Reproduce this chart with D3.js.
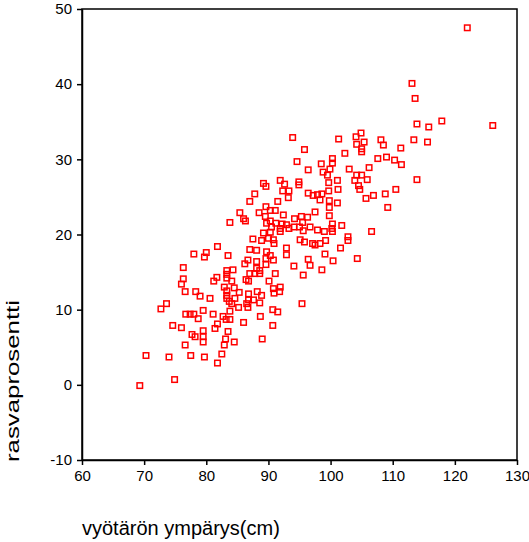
<!DOCTYPE html>
<html>
<head>
<meta charset="utf-8">
<script src="https://cdn.jsdelivr.net/npm/d3@7"></script>
<style>
  body { margin: 0; background: #fff; }
  svg { display: block; }
</style>
</head>
<body>
<svg id="chart" width="529" height="542"></svg>
<script>
// vyötärön ympärys (cm)
const waist = [
  69.3, 70.3, 72.7, 73.6, 74.0, 74.6, 74.9, 76.0, 76.3, 76.3, 76.0, 76.6, 76.6, 76.7, 77.4, 78.0,
  77.5, 77.7, 78.2, 78.0, 78.3, 78.7, 79.0, 79.5, 79.5, 79.5, 79.5, 79.7, 80.0, 79.7, 80.6, 81.1,
  81.8, 81.8, 81.4, 81.8, 82.5, 82.7, 83.2, 83.3, 83.3, 82.9, 83.1, 83.5, 83.5, 84.5, 81.7, 81.2,
  83.3, 83.3, 83.3, 84.3, 84.1, 83.8, 82.9, 83.3, 83.7, 83.8, 83.8, 84.1, 84.6, 84.5, 85.3, 85.2,
  86.0, 86.5, 86.7, 87.6, 86.8, 86.8, 88.2, 88.9, 88.6, 88.7, 89.0, 90.7, 91.5, 90.7, 90.8, 90.9,
  91.9, 91.8, 95.4, 86.2, 86.7, 87.0, 87.5, 88.1, 88.1, 88.1, 88.6, 88.6, 87.8, 87.0, 86.4, 86.8,
  89.7, 90.3, 89.6, 90.8, 89.6, 91.1, 90.1, 92.9, 92.9, 91.9, 89.2, 90.3, 90.0, 90.8, 90.9, 89.7,
  90.5, 86.0, 86.3, 85.4, 88.5, 89.6, 90.3, 91.1, 90.3, 89.5, 91.2, 92.4, 93.3, 92.2, 92.9, 91.9,
  94.1, 94.2, 95.3, 95.5, 96.3, 95.0, 95.6, 96.7, 97.5, 97.9, 99.0, 100.3, 101.8, 99.8, 100.3, 100.2,
  95.1, 95.8, 97.1, 97.5, 98.3, 99.2, 101.6, 102.8, 102.8, 99.1, 100.4, 96.4, 96.7, 94.1, 98.6, 95.6,
  104.3, 88.9, 89.2, 89.6, 91.9, 92.6, 92.3, 93.3, 93.2, 94.9, 94.9, 87.8, 87.0, 91.5, 96.4, 97.2,
  97.9, 98.6, 98.3, 99.7, 99.7, 101.1, 101.2, 99.8, 101.1, 99.8, 103.9, 104.5, 104.7, 96.4, 98.8, 99.5,
  94.6, 98.5, 99.9, 100.3, 100.3, 103.0, 95.8, 93.9, 101.3, 102.3, 104.1, 104.9, 104.2, 105.4, 105.0, 105.0,
  108.1, 108.5, 111.3, 107.6, 109.0, 110.3, 111.4, 106.2, 104.2, 105.0, 105.9, 110.5, 108.8, 106.9, 105.7, 109.2,
  106.6, 113.9, 113.1, 113.6, 113.9, 115.8, 117.9, 126.1, 122.0, 113.4, 115.6
];

// rasvaprosentti
const fat = [
  -0.1, 3.9, 10.1, 10.8, 3.7, 7.9, 0.7, 7.6, 15.6, 14.1, 13.4, 12.4, 5.3, 9.4, 9.4, 9.4,
  3.9, 6.7, 6.4, 17.4, 12.4, 8.8, 11.8, 9.9, 7.2, 6.4, 5.7, 3.7, 17.6, 17.0, 11.5, 9.4,
  18.4, 8.1, 7.5, 2.9, 4.1, 9.1, 8.7, 11.9, 11.5, 5.3, 6.1, 7.1, 17.2, 5.7, 14.3, 13.8,
  15.2, 14.7, 14.2, 15.3, 13.8, 21.6, 13.0, 12.5, 11.1, 9.8, 8.7, 10.8, 11.5, 12.9, 12.3, 10.3,
  8.3, 10.8, 10.3, 11.3, 11.3, 12.1, 12.4, 11.9, 10.9, 9.1, 6.1, 10.0, 9.7, 7.9, 12.8, 12.2,
  13.0, 12.4, 10.8, 16.1, 16.6, 18.0, 19.4, 17.9, 16.4, 15.5, 15.2, 14.8, 14.8, 14.8, 14.0, 13.8,
  17.7, 17.2, 16.8, 16.6, 16.0, 14.8, 13.8, 17.3, 18.2, 20.4, 20.2, 20.3, 19.5, 19.3, 18.8, 21.5,
  21.0, 22.1, 21.8, 22.9, 22.9, 23.7, 23.2, 23.2, 21.8, 22.4, 21.5, 22.6, 20.8, 21.4, 21.3, 20.8,
  21.0, 22.1, 22.4, 21.6, 22.3, 21.0, 20.5, 21.0, 23.0, 20.6, 20.4, 20.4, 21.2, 22.5, 21.4, 20.8,
  19.3, 19.0, 18.8, 18.6, 18.8, 19.2, 18.2, 19.7, 19.2, 17.4, 16.5, 16.7, 15.9, 15.8, 15.3, 14.6,
  16.8, 19.2, 26.8, 26.4, 27.2, 26.7, 25.8, 25.8, 24.9, 27.0, 26.6, 25.4, 24.4, 24.4, 25.5, 25.2,
  25.3, 25.4, 24.6, 25.8, 26.9, 27.2, 26.0, 24.5, 24.2, 23.6, 27.2, 26.5, 26.0, 28.6, 28.3, 27.9,
  29.7, 29.4, 28.7, 30.1, 29.5, 28.7, 31.3, 32.9, 32.7, 30.8, 33.0, 33.5, 32.0, 32.3, 31.4, 31.0,
  32.6, 31.9, 31.5, 30.1, 30.3, 29.9, 29.3, 28.9, 27.9, 27.9, 27.3, 26.0, 25.4, 25.2, 24.8, 23.6,
  20.4, 27.3, 40.1, 38.1, 34.7, 34.3, 35.1, 34.5, 47.5, 32.6, 32.3
];

const xTicks = [60, 70, 80, 90, 100, 110, 120, 130];
const yTicks = [-10, 0, 10, 20, 30, 40, 50];

const xLabel = 'vyötärön ympärys(cm)';
const yLabel = 'rasvaprosentti';

const points = waist.map((w, i) => ({ waist: w, fat: fat[i] }));

const svg = d3.select('#chart');
const margin = { left: 82, right: 12, top: 9, bottom: 82 };
const width = +svg.attr('width') - margin.left - margin.right;
const height = +svg.attr('height') - margin.top - margin.bottom;

const x = d3.scaleLinear().domain([60, 130]).range([0, width]);
const y = d3.scaleLinear().domain([-10, 50]).range([height, 0]);

const g = svg.append('g')
  .attr('transform', `translate(${margin.left}, ${margin.top})`);

// kehys (ylä- ja oikea reuna)
g.append('rect')
  .attr('x', 0).attr('y', 0)
  .attr('width', width).attr('height', height)
  .attr('fill', 'none')
  .attr('stroke', '#000')
  .attr('stroke-width', 1.5);

const font = '"Liberation Sans", Arial, sans-serif';
const plain = d => String(d);

g.append('g')
  .attr('transform', `translate(0, ${height})`)
  .call(d3.axisBottom(x).tickValues(xTicks).tickFormat(plain).tickSize(5).tickSizeOuter(0).tickPadding(5))
  .call(ax => ax.selectAll('path, line').attr('stroke', '#000').attr('stroke-width', 1.5))
  .call(ax => ax.selectAll('text')
    .attr('font-family', font).attr('font-size', '15px').attr('fill', '#000'));

g.append('g')
  .call(d3.axisLeft(y).tickValues(yTicks).tickFormat(plain).tickSize(5).tickSizeOuter(0).tickPadding(5))
  .call(ax => ax.selectAll('path, line').attr('stroke', '#000').attr('stroke-width', 1.5))
  .call(ax => ax.selectAll('text')
    .attr('font-family', font).attr('font-size', '15px').attr('fill', '#000'));

const s = 5.5;
g.selectAll('rect.pt')
  .data(points)
  .join('rect')
  .attr('class', 'pt')
  .attr('x', d => x(d.waist) - s / 2)
  .attr('y', d => y(d.fat) - s / 2)
  .attr('width', s)
  .attr('height', s)
  .attr('fill', 'none')
  .attr('stroke', '#ff0000')
  .attr('stroke-width', 1.5);

svg.append('text')
  .attr('x', margin.left)
  .attr('y', 535)
  .attr('font-family', font)
  .attr('font-size', '20px')
  .attr('fill', '#000')
  .text(xLabel);

svg.append('text')
  .attr('transform', `translate(19, ${margin.top + height + 2}) rotate(-90)`)
  .attr('text-anchor', 'start')
  .attr('font-family', font)
  .attr('font-size', '19px')
  .attr('textLength', 162)
  .attr('lengthAdjust', 'spacingAndGlyphs')
  .attr('fill', '#000')
  .text(yLabel);
</script>
</body>
</html>
